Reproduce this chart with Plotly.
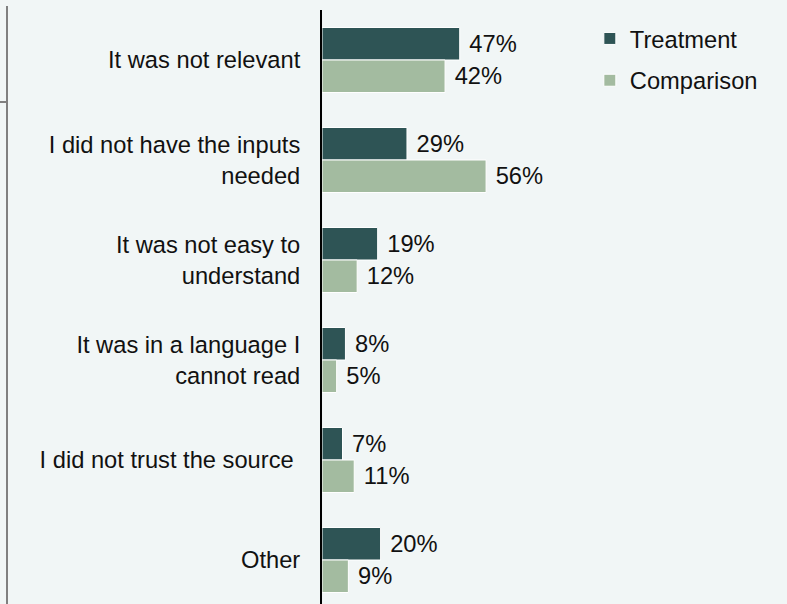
import plotly.graph_objects as go

categories = [
    "It was not relevant",
    "I did not have the inputs<br>needed",
    "It was not easy to<br>understand",
    "It was in a language I<br>cannot read",
    "I did not trust the source\u00a0",
    "Other",
]
treatment = [47, 29, 19, 8, 7, 20]
comparison = [42, 56, 12, 5, 11, 9]

FONT = "Liberation Sans, Arial, sans-serif"
BG = "#f1f6f6"
FS = 23.7

fig = go.Figure()
fig.add_trace(go.Bar(
    y=categories, x=treatment, orientation="h", name="Treatment", legendgroup="t",
    marker=dict(color="#2e5455", line=dict(color="white", width=1)),
    text=[f"\u00a0{v}%" for v in treatment], textposition="outside",
    textfont=dict(size=FS, color="#111111", family=FONT), cliponaxis=False,
))
fig.add_trace(go.Bar(
    y=categories, x=comparison, orientation="h", name="Comparison", legendgroup="c",
    marker=dict(color="#a3bba0", line=dict(color="white", width=1)),
    text=[f"\u00a0{v}%" for v in comparison], textposition="outside",
    textfont=dict(size=FS, color="#111111", family=FONT), cliponaxis=False,
))

fig.update_layout(
    width=787, height=604,
    margin=dict(l=322, r=0, t=10, b=0),
    paper_bgcolor=BG, plot_bgcolor=BG,
    barmode="group", bargap=0.35, bargroupgap=0,
    font=dict(family=FONT, size=FS, color="#111111"),
    xaxis=dict(range=[0, 158.7], visible=False),
    yaxis=dict(
        range=[5.44, -0.5], showline=True, linecolor="#000000", linewidth=2,
        ticks="", ticklabelstandoff=15, showgrid=False, zeroline=False,
        tickfont=dict(size=FS, family=FONT, color="#111111"),
    ),
    legend=dict(
        x=0.576, y=0.989, xanchor="left", yanchor="top", traceorder="grouped",
        tracegroupgap=8,
        bgcolor="rgba(0,0,0,0)", font=dict(size=FS, family=FONT, color="#111111"),
    ),
    shapes=[
        dict(type="line", xref="paper", yref="paper",
             x0=(7 - 322) / 465, x1=(7 - 322) / 465, y0=1.0 + 4 / 594, y1=-0.01,
             line=dict(color="#808080", width=2)),
        dict(type="line", xref="paper", yref="paper",
             x0=-322 / 465, x1=(7 - 322) / 465,
             y0=(604 - 102) / 594, y1=(604 - 102) / 594,
             line=dict(color="#808080", width=2)),
    ],
)

fig.write_html(
    "out.html",
    config={"displayModeBar": False},
    post_script="document.body.style.margin='0';document.body.style.overflow='hidden';",
)
